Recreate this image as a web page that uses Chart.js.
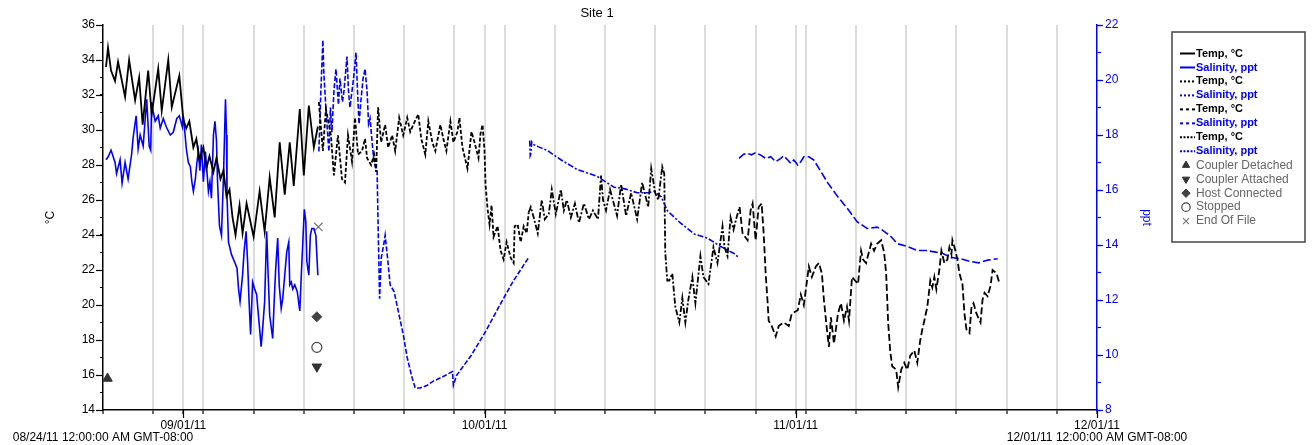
<!DOCTYPE html>
<html><head><meta charset="utf-8">
<script src="https://cdn.jsdelivr.net/npm/chart.js@4.4.0/dist/chart.umd.min.js"></script>
<style>html,body{margin:0;padding:0;background:#fff;overflow:hidden}#wrap{position:relative;width:1313px;height:445px}</style>
</head><body><div id="wrap"><canvas id="c" width="1313" height="445"></canvas></div>
<script>
// ---- x axis: days since 08/24/11 00:00 ----
const xTickDays = [0,5,8,10,15,20,25,30,35,38,40,45,50,55,60,65,69,70,75,80,85,90,95,99];
const xMajorDays = [8,38,69,99];
const xMajorLabels = ['09/01/11','10/01/11','11/01/11','12/01/11'];
const startLabel = '08/24/11 12:00:00 AM GMT-08:00';
const endLabel = '12/01/11 12:00:00 AM GMT-08:00';

// ---- Deployment 1 (solid) ----
const temp1 = [[0.3,33.6],[0.5,34.7],[0.8,33.4],[1.2,32.8],[1.5,33.9],[2.2,31.9],[2.6,34.0],[3.2,31.7],[3.6,33.0],[3.95,30.3],[4.5,33.4],[4.85,30.9],[5.5,33.5],[5.85,31.1],[6.5,34.0],[6.85,31.3],[7.6,33.1],[8.0,30.6],[8.3,30.1],[8.6,30.5],[9.0,29.0],[9.3,29.5],[9.6,28.3],[10.0,29.0],[10.3,27.8],[10.6,28.5],[11.0,27.6],[11.3,28.4],[11.7,27.2],[12.0,27.7],[12.3,26.2],[12.6,26.6],[12.9,25.0],[13.2,24.0],[13.6,25.7],[13.9,24.1],[14.3,25.8],[15.0,23.9],[15.6,26.5],[16.1,24.2],[16.6,27.3],[17.1,25.0],[17.6,29.3],[18.1,26.3],[18.6,29.3],[19.0,26.8],[19.6,31.2],[20.0,27.4],[20.5,31.4],[21.0,29.0],[21.4,30.2]];
const sal1 = [[0.3,17.1],[0.5,17.2],[0.8,17.45],[1.2,17.0],[1.35,16.6],[1.7,17.1],[1.9,16.25],[2.2,17.0],[2.5,16.4],[2.85,17.3],[3.0,17.9],[3.3,18.7],[3.5,17.5],[3.7,18.0],[4.0,17.6],[4.35,19.3],[4.6,17.6],[4.75,17.45],[4.85,19.2],[5.0,18.85],[5.2,18.5],[5.5,18.7],[5.7,18.25],[6.0,18.6],[6.3,18.3],[6.7,18.0],[7.0,18.1],[7.35,18.6],[7.6,18.7],[7.9,18.3],[8.0,18.7],[8.3,17.5],[8.5,17.0],[8.7,16.85],[8.85,16.3],[9.0,15.95],[9.2,16.4],[9.35,17.0],[9.5,17.4],[9.65,16.7],[9.8,17.65],[10.0,16.3],[10.2,17.4],[10.5,15.95],[10.65,16.3],[10.8,15.7],[11.0,18.0],[11.15,18.5],[11.3,17.8],[11.4,16.4],[11.6,14.7],[11.8,14.35],[12.0,16.5],[12.2,19.3],[12.3,18.0],[12.35,15.8],[12.5,14.1],[12.8,13.65],[13.2,13.3],[13.35,13.15],[13.5,12.4],[13.65,11.95],[13.9,12.9],[14.05,13.75],[14.25,14.5],[14.4,13.4],[14.55,11.95],[14.7,10.75],[14.9,12.65],[15.1,12.4],[15.3,12.2],[15.6,10.95],[15.75,10.3],[15.9,10.95],[16.1,11.95],[16.3,14.5],[16.45,12.9],[16.6,11.45],[16.9,10.6],[17.05,11.95],[17.2,13.15],[17.4,14.25],[17.55,12.55],[17.75,11.7],[17.9,12.05],[18.1,12.9],[18.3,13.75],[18.5,14.1],[18.6,12.55],[18.75,12.65],[18.9,12.4],[19.1,12.55],[19.35,12.3],[19.6,11.6],[19.75,12.9],[19.9,14.1],[20.05,15.3],[20.2,14.85],[20.3,13.4],[20.5,12.9],[20.65,14.35],[20.8,14.6],[21.0,14.6],[21.2,14.35],[21.4,12.9]];

// ---- Deployment 2 ----
const temp2 = [[21.5,31.6],[21.9,28.8],[22.2,31.2],[22.7,29.7],[23.0,27.4],[23.4,29.7],[23.8,27.2],[24.1,27.0],[24.4,29.7],[24.8,28.2],[25.1,30.7],[25.4,28.6],[25.8,28.8],[26.1,29.5],[26.3,28.4],[26.7,28.0],[27.0,28.6],[27.2,27.6],[27.4,31.3],[27.7,29.3],[28.1,30.3],[28.4,29.0],[28.8,29.7],[29.1,28.8],[29.5,30.7],[29.9,29.7],[30.3,30.7],[30.6,29.9],[30.9,30.3],[31.4,30.9],[31.7,29.5],[32.1,28.6],[32.4,30.5],[32.8,29.3],[33.1,28.8],[33.6,30.3],[33.9,29.5],[34.2,28.8],[34.6,30.5],[34.9,29.3],[35.3,29.9],[35.5,30.7],[35.8,29.0],[36.3,27.8],[36.7,29.9],[37.0,29.3],[37.4,28.4],[37.6,29.8],[37.8,30.3],[38.0,28.8],[38.1,26.9],[38.3,25.5],[38.5,24.6],[38.7,25.7],[38.9,23.9],[39.3,24.5],[39.6,23.1],[39.9,22.6],[40.2,23.6],[40.6,22.7],[40.9,22.4],[41.0,24.5],[41.3,24.6],[41.6,23.6],[41.9,24.5],[42.2,24.1],[42.4,25.3]];
const sal2 = [[21.5,17.4],[21.7,19.6],[21.9,21.45],[22.0,20.2],[22.3,18.4],[22.5,17.4],[22.65,19.0],[22.8,18.1],[23.0,19.6],[23.2,20.4],[23.45,19.1],[23.6,20.05],[23.85,19.2],[24.0,19.6],[24.3,20.85],[24.45,19.6],[24.6,19.0],[24.8,19.6],[25.0,20.2],[25.2,21.0],[25.35,19.6],[25.5,18.4],[25.7,19.3],[25.9,20.05],[26.1,20.4],[26.3,19.6],[26.45,18.4],[26.6,18.6],[26.8,17.75],[27.0,17.0],[27.3,16.7],[27.4,14.7],[27.55,12.05],[27.7,13.5],[28.0,14.1],[28.1,14.35],[28.35,13.5],[28.6,12.55],[29.0,12.3],[29.2,11.95],[29.9,10.75],[30.3,9.9],[30.8,9.15],[31.1,8.8],[31.6,8.8],[32.3,8.9],[32.9,9.05],[33.8,9.2],[34.8,9.4],[34.9,8.9],[35.2,9.25],[36.7,10.0],[38.1,10.85],[39.5,11.8],[40.8,12.65],[42.4,13.55]];

// ---- Deployment 3 ----
const temp3 = [[42.4,25.3],[42.6,25.6],[42.9,25.0],[43.3,24.1],[43.7,26.0],[44.0,24.9],[44.4,25.2],[44.7,26.6],[45.1,25.2],[45.6,26.6],[45.9,25.4],[46.2,26.0],[46.6,25.0],[47.0,25.8],[47.4,24.7],[47.9,25.8],[48.4,24.9],[48.8,25.4],[49.3,24.9],[49.6,27.4],[49.8,26.0],[50.1,25.4],[50.5,26.6],[51.2,25.1],[51.6,26.9],[52.1,25.1],[52.6,26.4],[53.2,24.9],[53.7,27.0],[54.3,25.6],[54.6,27.8],[55.0,26.4],[55.3,26.0],[55.7,27.9],[55.9,27.5],[56.0,23.0],[56.2,21.4],[56.4,21.4],[56.7,21.8],[57.0,19.9],[57.4,19.0],[57.7,20.4],[58.0,19.0],[58.3,20.3],[58.7,21.6],[59.0,20.1],[59.5,22.8],[59.8,21.6],[60.3,21.2],[60.8,23.3],[61.2,22.4],[61.7,24.5],[61.9,23.3],[62.2,22.8],[62.5,25.0],[62.8,24.3],[63.1,25.0],[63.4,25.6]];
const sal3 = [[42.5,17.8],[42.55,17.25],[42.6,17.3],[42.7,17.75],[42.9,17.65],[43.5,17.55],[44.2,17.45],[45.6,17.1],[47.2,16.75],[49.2,16.5],[50.9,16.1],[51.9,16.05],[53.2,15.9],[54.3,15.9],[54.9,15.95],[55.6,15.75],[56.2,15.25],[57.5,14.8],[58.9,14.4],[60.2,14.25],[61.5,13.95],[62.8,13.7],[63.3,13.55]];

// ---- Deployment 4 ----
const temp4 = [[63.4,25.6],[63.7,24.1],[64.2,23.7],[64.5,25.4],[64.7,25.8],[65.0,23.7],[65.3,25.6],[65.6,25.8],[65.8,24.1],[66.0,21.8],[66.2,20.1],[66.3,19.1],[66.6,18.8],[67.0,18.2],[67.3,18.8],[67.8,19.0],[68.3,18.8],[68.6,19.5],[69.2,19.7],[69.5,20.6],[69.8,20.0],[70.3,22.2],[70.6,21.6],[71.0,22.2],[71.3,22.4],[71.6,21.8],[71.8,20.3],[72.1,18.6],[72.3,17.6],[72.5,19.3],[72.8,17.8],[73.2,19.5],[73.5,20.1],[73.8,19.1],[74.1,19.9],[74.3,19.1],[74.6,21.6],[74.9,21.4],[75.2,21.2],[75.5,23.1],[75.7,22.6],[76.0,22.4],[76.5,23.5],[76.8,23.1],[77.1,23.5],[77.5,23.7],[77.8,23.0],[78.0,21.8],[78.2,19.0],[78.4,17.4],[78.6,16.5],[79.0,16.3],[79.2,15.3],[79.5,16.3],[79.8,16.7],[80.1,16.3],[80.4,17.1],[80.8,17.4],[81.1,16.7],[81.4,18.0],[81.6,18.6],[81.8,19.1],[82.1,19.9],[82.4,21.4],[82.6,21.0],[82.8,21.6],[83.0,20.9],[83.3,22.0],[83.5,23.1],[83.8,22.4],[84.1,22.6],[84.3,23.3],[84.5,22.9],[84.6,23.7],[84.9,23.1],[85.1,22.6],[85.3,21.8],[85.6,21.2],[85.8,19.5],[86.0,18.6],[86.3,18.4],[86.5,19.9],[86.7,20.1],[87.0,19.5],[87.4,19.0],[87.6,20.3],[87.8,20.7],[88.1,20.5],[88.4,21.1],[88.6,22.0],[89.0,21.8],[89.3,21.2]];
const sal4 = [[63.35,17.15],[63.8,17.3],[64.2,17.33],[64.6,17.28],[65.0,17.36],[65.5,17.27],[66.0,17.15],[66.5,17.21],[67.0,17.03],[67.5,17.15],[67.8,17.24],[68.2,17.09],[68.5,16.97],[68.8,17.09],[69.2,16.91],[69.5,17.03],[69.8,17.21],[70.3,17.21],[70.8,17.09],[71.5,16.67],[72.2,16.25],[73.2,15.75],[74.2,15.3],[75.1,14.85],[76.1,14.6],[77.1,14.65],[77.6,14.55],[78.5,14.3],[79.1,14.05],[80.1,13.95],[81.1,13.8],[82.0,13.8],[82.8,13.75],[83.6,13.7],[84.4,13.55],[85.4,13.5],[86.4,13.4],[87.2,13.35],[88.1,13.45],[89.1,13.5]];

// ---- Event markers (°C axis) ----
const coupDetached = [[0.45,15.8]];
const coupAttached = [[21.3,16.47]];
const hostConnected = [[21.3,19.33]];
const stoppedPts = [[21.3,17.58]];
const endOfFile = [[21.45,24.46]];

const seriesLabels = ['Temp, °C','Salinity, ppt','Temp, °C','Salinity, ppt','Temp, °C','Salinity, ppt','Temp, °C','Salinity, ppt'];
const markerLabels = ['Coupler Detached','Coupler Attached','Host Connected','Stopped','End Of File'];

const FONT = "'Liberation Sans', Arial, Helvetica, sans-serif";
const BLUE = '#0000ff';
const toXY = a => a.map(p => ({x:p[0], y:p[1]}));

const lineDash = [[],[],[4,2],[5,2],[6,2,2,2],[6,2,2,2],[7,3],[8,3]];
const legendDash = [[],[],[2,2],[2,2],[3,3],[3,3],[2,1.5],[2,1.5]];
const tempSets = [temp1,temp2,temp3,temp4];
const salSets = [sal1,sal2,sal3,sal4];

const datasets = [];
for (let i=0;i<4;i++){
  datasets.push({label:seriesLabels[2*i], data:toXY(tempSets[i]), yAxisID:'y', borderColor:'#000', borderWidth:1.8, borderDash:lineDash[2*i], pointRadius:0, tension:0, fill:false});
  datasets.push({label:seriesLabels[2*i+1], data:toXY(salSets[i]), yAxisID:'y1', borderColor:BLUE, borderWidth:1.6, borderDash:lineDash[2*i+1], pointRadius:0, tension:0, fill:false});
}
const mk = (label, pts, style, rot, r, bg, bc, bw) => ({label, data:toXY(pts), yAxisID:'y', showLine:false, pointStyle:style, rotation:rot, pointRadius:r, backgroundColor:bg, borderColor:bc, borderWidth:bw, clip:false});
datasets.push(mk(markerLabels[0], coupDetached, 'triangle', 0, 5.5, '#333', '#333', 1));
datasets.push(mk(markerLabels[1], coupAttached, 'triangle', 180, 5.5, '#333', '#333', 1));
datasets.push(mk(markerLabels[2], hostConnected, 'rectRot', 0, 5, '#444', '#444', 1));
datasets.push(mk(markerLabels[3], stoppedPts, 'circle', 0, 5, '#fff', '#444', 1.2));
datasets.push(mk(markerLabels[4], endOfFile, 'crossRot', 0, 6, '#777', '#777', 1.2));

const extras = {
  id:'extras',
  afterDraw(chart){
    const {ctx, chartArea, scales:{x,y,y1}} = chart;
    ctx.save();
    // title
    ctx.fillStyle = '#000'; ctx.font = '13px ' + FONT; ctx.textAlign = 'center'; ctx.textBaseline = 'middle';
    ctx.fillText('Site 1', (chartArea.left + chartArea.right)/2 - 3, 13);
    // longer major ticks
    ctx.lineWidth = 1.2; ctx.strokeStyle = '#000';
    xMajorDays.forEach(d => { const px = Math.round(x.getPixelForValue(d)) + 0.5; ctx.beginPath(); ctx.moveTo(px, chartArea.bottom); ctx.lineTo(px, chartArea.bottom + 8); ctx.stroke(); });
    for (let v=14; v<=36; v+=2){ const py = Math.round(y.getPixelForValue(v)) + 0.5; ctx.beginPath(); ctx.moveTo(chartArea.left - 7, py); ctx.lineTo(chartArea.left, py); ctx.stroke(); }
    ctx.strokeStyle = BLUE;
    for (let v=8; v<=22; v+=2){ const py = Math.round(y1.getPixelForValue(v)) + 0.5; ctx.beginPath(); ctx.moveTo(chartArea.right, py); ctx.lineTo(chartArea.right + 6, py); ctx.stroke(); }
    // legend box
    ctx.strokeStyle = '#444'; ctx.lineWidth = 1.5;
    ctx.strokeRect(1172, 32, 133, 210);
    ctx.textAlign = 'left'; ctx.textBaseline = 'middle';
    chart.data.datasets.forEach((ds, i) => {
      const ry = 53.5 + i*13.97;
      if (ds.showLine !== false){
        ctx.save();
        ctx.setLineDash(legendDash[i]); ctx.strokeStyle = ds.borderColor; ctx.lineWidth = 2;
        ctx.beginPath(); ctx.moveTo(1180, ry); ctx.lineTo(1195, ry); ctx.stroke();
        ctx.restore();
        ctx.font = 'bold 11px ' + FONT; ctx.fillStyle = ds.borderColor;
        ctx.fillText(ds.label, 1196, ry);
      } else {
        ctx.save();
        ctx.fillStyle = ds.backgroundColor; ctx.strokeStyle = ds.borderColor; ctx.lineWidth = ds.borderWidth;
        Chart.helpers.drawPoint(ctx, {pointStyle: ds.pointStyle, rotation: ds.rotation, radius: 4.2, borderWidth: ds.borderWidth}, 1186, ry);
        ctx.restore();
        ctx.font = '12px ' + FONT; ctx.fillStyle = '#666';
        ctx.fillText(ds.label, 1196, ry);
      }
    });
    ctx.restore();
  }
};

new Chart(document.getElementById('c'), {
  type:'line',
  data:{datasets},
  plugins:[extras],
  options:{
    responsive:false, animation:false, devicePixelRatio:1, events:[],
    layout:{padding:{top:25, left:0, right:156, bottom:0}},
    plugins:{legend:{display:false}, tooltip:{enabled:false}, title:{display:false}},
    scales:{
      x:{type:'linear', position:'bottom', min:0, max:99,
        afterBuildTicks: s => { s.ticks = xTickDays.map(v => ({value:v})); },
        afterFit: s => { s.height = 35; },
        grid:{color: c => (c.tick && (c.tick.value===0 || c.tick.value===99)) ? 'rgba(0,0,0,0)' : '#dcdcdc', lineWidth:2, tickColor:'#000', tickWidth:1.2, tickLength:4, drawTicks:true},
        border:{color:'#000', width:1.5},
        ticks:{autoSkip:false, maxRotation:0, minRotation:0, padding:5, color:'#000', font:{size:12, family:FONT, lineHeight:1.05},
          callback: v => {
            const k = xMajorDays.indexOf(v);
            if (v === 0) return ['', startLabel];
            if (v === 99) return [xMajorLabels[3], endLabel];
            return k >= 0 ? xMajorLabels[k] : '';
          }}
      },
      y:{type:'linear', position:'left', min:14, max:36,
        afterFit: s => { s.width = 103; },
        ticks:{stepSize:1, autoSkip:false, padding:5, color:'#000', font:{size:12, family:FONT}, callback: v => (v % 2 === 0 ? v : '')},
        grid:{drawOnChartArea:false, tickLength:3, tickColor:'#000', tickWidth:1.2},
        border:{color:'#000', width:1.5},
        title:{display:true, text:'°C', color:'#000', font:{size:12, family:FONT}, padding:{top:43, bottom:0}}
      },
      y1:{type:'linear', position:'right', min:8, max:22,
        afterFit: s => { s.width = 60; },
        ticks:{stepSize:1, autoSkip:false, padding:4, color:BLUE, font:{size:12, family:FONT}, callback: v => (v % 2 === 0 ? v : '')},
        grid:{drawOnChartArea:false, tickLength:4, tickColor:BLUE, tickWidth:1.2},
        border:{color:BLUE, width:1.5},
        title:{display:true, text:'ppt', color:BLUE, font:{size:12, family:FONT}, padding:{top:3, bottom:0}}
      }
    }
  }
});
</script></body></html>
